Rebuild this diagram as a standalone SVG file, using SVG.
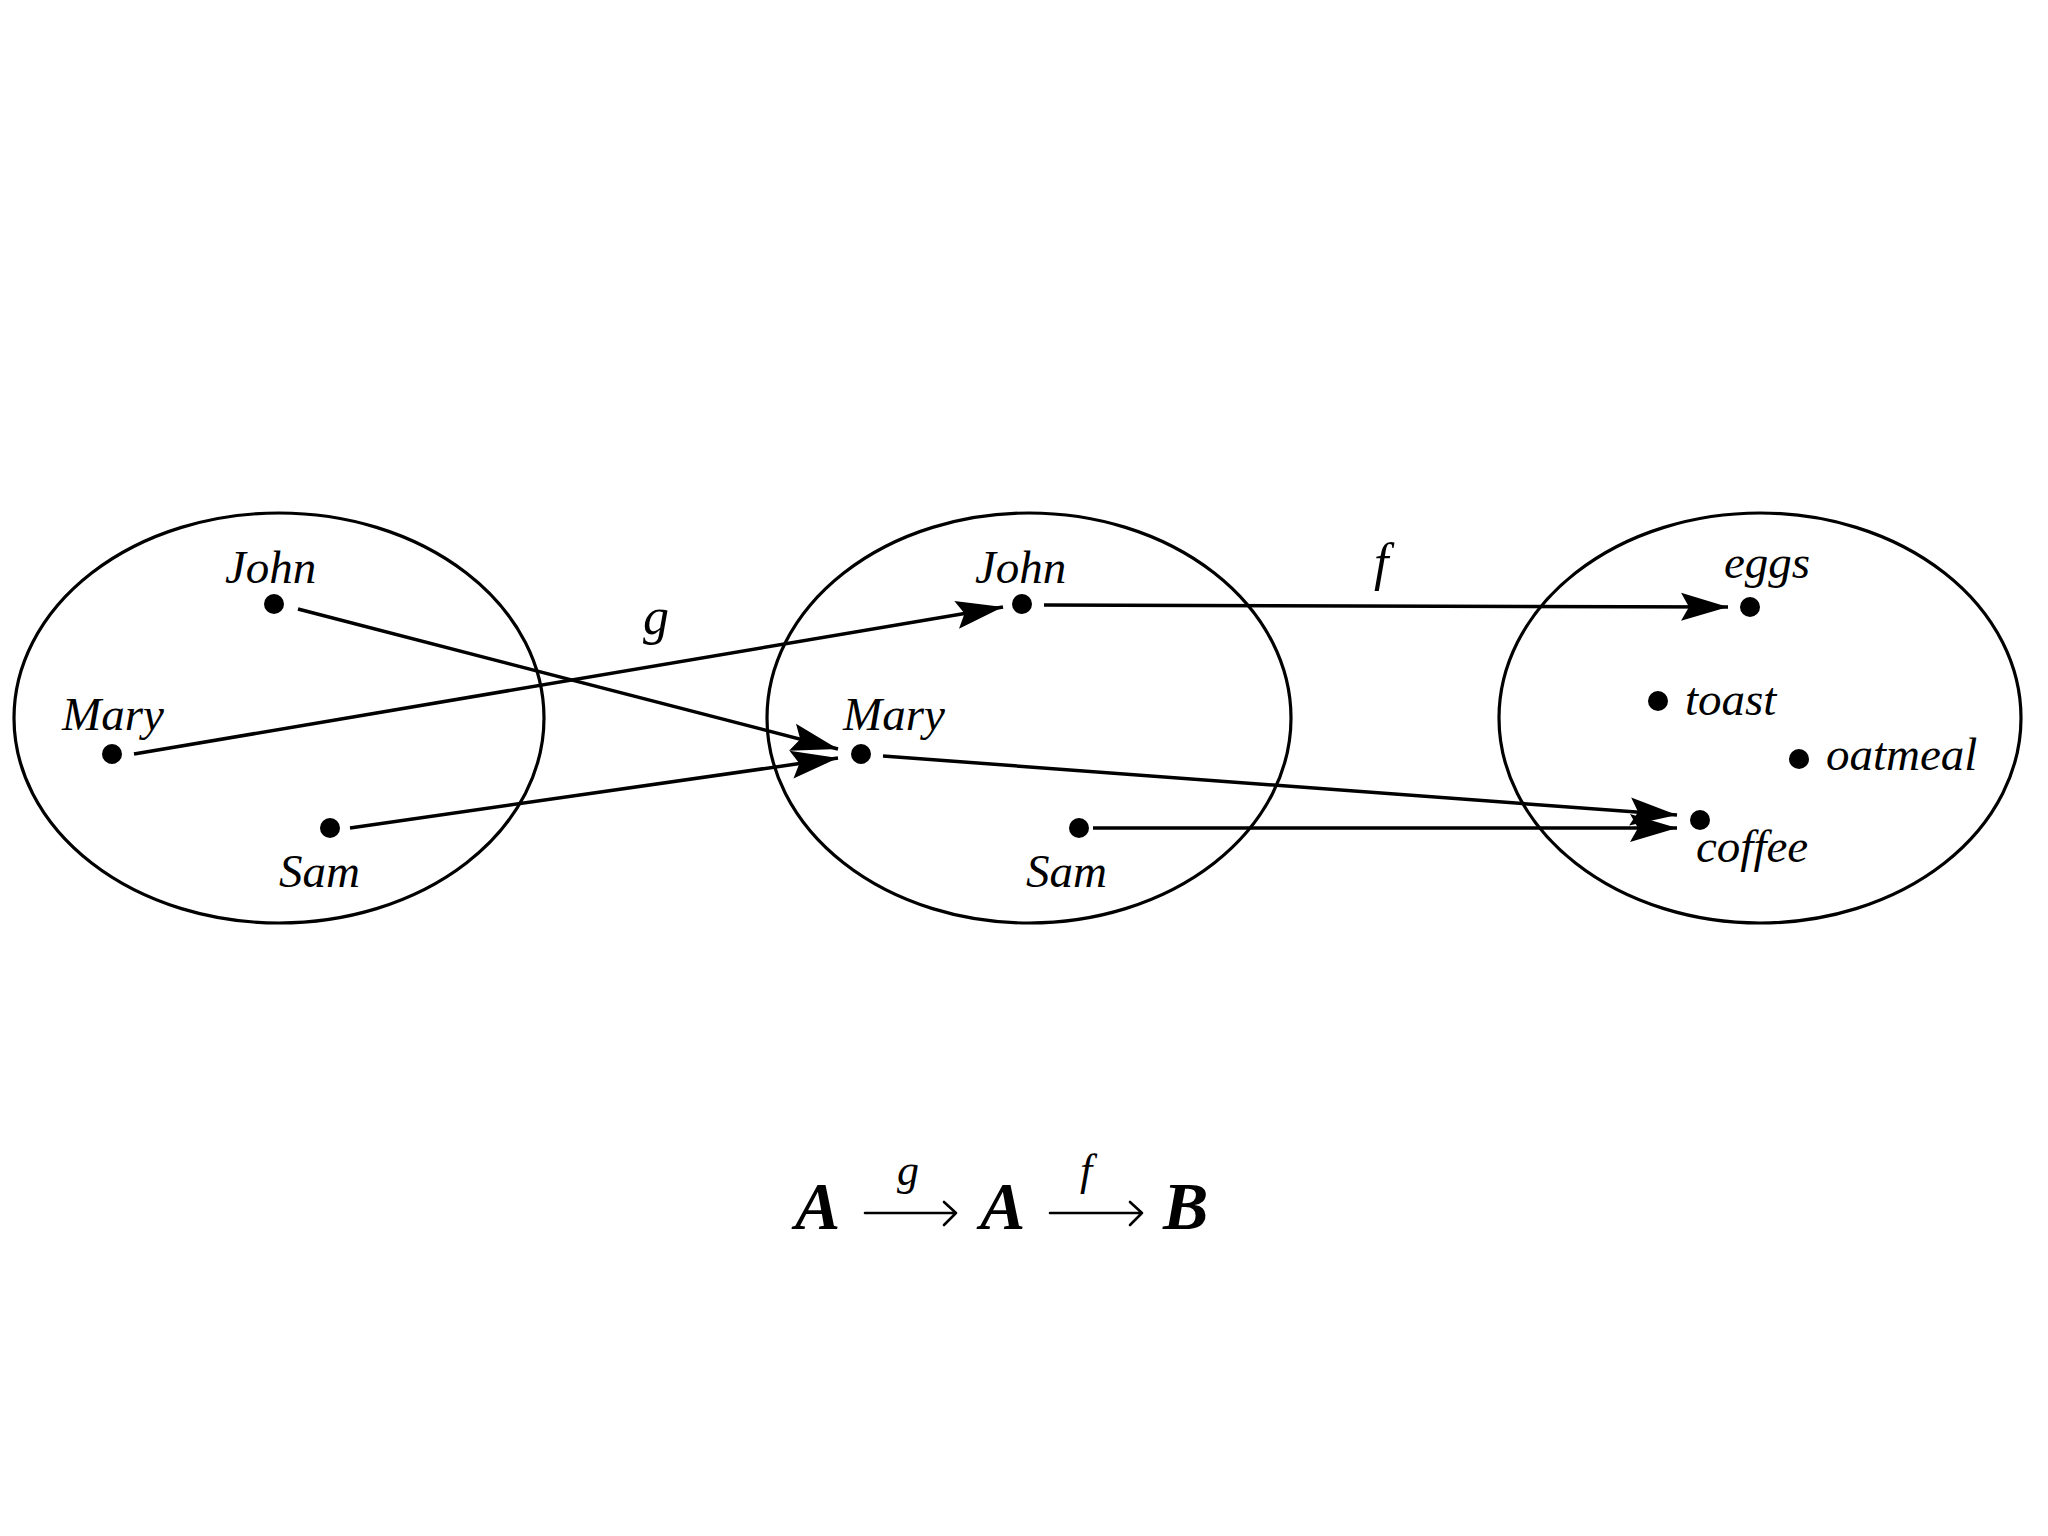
<svg xmlns="http://www.w3.org/2000/svg" width="2048" height="1536" viewBox="0 0 2048 1536">
<style>
.set{fill:none;stroke:#000;stroke-width:3.2}
.dot{fill:#000}
.lbl{font-family:"Liberation Serif","Times New Roman",serif;font-style:italic;font-size:47px;fill:#000}
.fn{font-family:"Liberation Serif","Times New Roman",serif;font-style:italic;font-size:52px;fill:#000}
.conn{fill:none;stroke:#000;stroke-width:3.5}
.big{font-family:"Liberation Serif","Times New Roman",serif;font-style:italic;font-weight:bold;font-size:68px;fill:#000}
.sm{font-family:"Liberation Serif","Times New Roman",serif;font-style:italic;font-size:44px;fill:#000}
.thin{fill:none;stroke:#000;stroke-width:2.6;stroke-linecap:round;stroke-linejoin:round}
</style>
<defs>
<marker id="ah" markerUnits="userSpaceOnUse" markerWidth="50" markerHeight="32" refX="47" refY="15" orient="auto">
<path d="M0,1 L47,15 L0,29 L8,15 Z" fill="#000"/>
</marker>
</defs>
<rect width="2048" height="1536" fill="#fff"/>

<g id="setA1">
<ellipse class="set" cx="279" cy="718" rx="265" ry="205"/>
</g>
<g id="setA2">
<ellipse class="set" cx="1029" cy="718" rx="262" ry="205"/>
</g>
<g id="setB">
<ellipse class="set" cx="1760" cy="718" rx="261" ry="205"/>
</g>

<g id="john1"><circle class="dot" cx="274" cy="604" r="10"/><text class="lbl" x="225" y="583">John</text></g>
<g id="mary1"><circle class="dot" cx="112" cy="754" r="10"/><text class="lbl" x="62" y="730">Mary</text></g>
<g id="sam1"><circle class="dot" cx="330" cy="828" r="10"/><text class="lbl" x="279" y="887">Sam</text></g>

<g id="john2"><circle class="dot" cx="1022" cy="604" r="10"/><text class="lbl" x="975" y="583">John</text></g>
<g id="mary2"><circle class="dot" cx="861" cy="754" r="10"/><text class="lbl" x="843" y="730">Mary</text></g>
<g id="sam2"><circle class="dot" cx="1079" cy="828" r="10"/><text class="lbl" x="1026" y="887">Sam</text></g>

<g id="eggs"><circle class="dot" cx="1750" cy="607" r="10"/><text class="lbl" x="1724" y="578">eggs</text></g>
<g id="toast"><circle class="dot" cx="1658" cy="701" r="10"/><text class="lbl" x="1685" y="715">toast</text></g>
<g id="oatmeal"><circle class="dot" cx="1799" cy="759" r="10"/><text class="lbl" x="1826" y="770">oatmeal</text></g>
<g id="coffee"><circle class="dot" cx="1700" cy="820" r="10"/><text class="lbl" x="1696" y="862">coffee</text></g>

<g id="connectors">
<line class="conn" x1="134" y1="754" x2="1003" y2="607" marker-end="url(#ah)"/>
<line class="conn" x1="298" y1="609" x2="838" y2="749" marker-end="url(#ah)"/>
<line class="conn" x1="350" y1="828" x2="838" y2="758" marker-end="url(#ah)"/>
<line class="conn" x1="1044" y1="605" x2="1728" y2="607" marker-end="url(#ah)"/>
<line class="conn" x1="883" y1="756" x2="1677" y2="815" marker-end="url(#ah)"/>
<line class="conn" x1="1093" y1="828" x2="1677" y2="828" marker-end="url(#ah)"/>
<text class="fn" x="643" y="634">g</text>
<text class="fn" x="1374" y="580">f</text>
</g>

<g id="formula">
<text class="big" x="795" y="1229">A</text>
<text class="sm" x="897" y="1185">g</text>
<path class="thin" d="M865,1213 L956,1213 M944,1202 L956,1213 L944,1225"/>
<text class="big" x="980" y="1229">A</text>
<text class="sm" x="1080" y="1185">f</text>
<path class="thin" d="M1050,1213 L1142,1213 M1130,1202 L1142,1213 L1130,1225"/>
<text class="big" x="1163" y="1229">B</text>
</g>
</svg>
